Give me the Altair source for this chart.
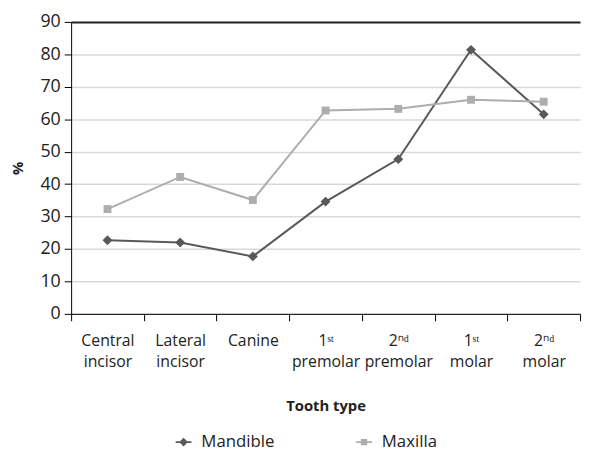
import altair as alt
import pandas as pd

categories = ["Central|incisor", "Lateral|incisor", "Canine", "1ˢᵗ|premolar",
              "2ⁿᵈ|premolar", "1ˢᵗ|molar", "2ⁿᵈ|molar"]
mandible = [22.7, 22.0, 17.7, 34.6, 47.7, 81.4, 61.5]
maxilla = [32.3, 42.2, 35.1, 62.7, 63.2, 66.0, 65.4]
series = ["Mandible", "Maxilla"]
colors = ["#595959", "#adadad"]

rows = []
for c, v in zip(categories, mandible):
    rows.append({"tooth": c, "pct": v, "jaw": "Mandible"})
for c, v in zip(categories, maxilla):
    rows.append({"tooth": c, "pct": v, "jaw": "Maxilla"})
df = pd.DataFrame(rows)

FONT = "Open Sans"

x = alt.X("tooth:N", sort=categories,
          scale=alt.Scale(type="band", paddingInner=0, paddingOuter=0),
          axis=alt.Axis(title="Tooth type", labelExpr="split(datum.label, '|')",
                        labelAngle=0, tickBand="extent", tickSize=7, labelPadding=12,
                        labelLineHeight=21, labelFontSize=16, titleFontSize=15,
                        titleFontWeight="bold", titlePadding=30, domainColor="black",
                        tickColor="black", labelColor="#222", titleColor="#222",
                        grid=False))
y = alt.Y("pct:Q", scale=alt.Scale(domain=[0, 90], nice=False),
          axis=alt.Axis(title="%", values=list(range(0, 91, 10)), tickSize=7,
                        labelPadding=4, labelFontSize=18, titleFontSize=15,
                        titleFontWeight="bold", titlePadding=15, domainColor="black",
                        tickColor="black", labelColor="#222", titleColor="#222",
                        grid=True,
                        gridColor=alt.condition("datum.value === 90", alt.value("#222"), alt.value("#d9d9d9")),
                        gridWidth=alt.condition("datum.value === 90", alt.value(2), alt.value(1.5))))

p1 = "M-1,-0.12L1,-0.12L1,0.12L-1,0.12Z M0,-0.55L0.55,0L0,0.55L-0.55,0Z"
p2 = "M-1,-0.12L1,-0.12L1,0.12L-1,0.12Z M-0.4,-0.4L0.4,-0.4L0.4,0.4L-0.4,0.4Z"

legend = alt.Legend(title=None, orient="none", legendX=105, legendY=417,
                    direction="horizontal", columns=2, columnPadding=79,
                    padding=0, labelFontSize=17, labelColor="#222",
                    labelOffset=9, symbolSize=256, symbolOpacity=1)

base = alt.Chart(df)
layers = []
shapes = ["diamond", "square"]
sizes = [100, 64]
for s, col, shp, sz in zip(series, colors, shapes, sizes):
    sub = base.transform_filter(f"datum.jaw === '{s}'")
    layers.append(sub.mark_line(strokeWidth=2, color=col).encode(x=x, y=y))
    layers.append(sub.mark_point(filled=True, opacity=1, size=sz, shape=shp, color=col).encode(x=x, y=y))

legend_layer = base.mark_point(filled=True, opacity=1, size=0).encode(
    x=x, y=y,
    color=alt.Color("jaw:N", scale=alt.Scale(domain=series, range=colors), legend=legend),
    shape=alt.Shape("jaw:N", scale=alt.Scale(domain=series, range=[p1, p2]), legend=legend))
layers.append(legend_layer)

chart = alt.layer(*layers).properties(
    width=516, height=296,
    autosize=alt.AutoSizeParams(type="none"),
    padding={"left": 64, "top": 11, "right": 4, "bottom": 140},
).configure(font=FONT).configure_view(stroke=None)

chart.save("out.html", embed_options={"renderer": "svg", "actions": False})
